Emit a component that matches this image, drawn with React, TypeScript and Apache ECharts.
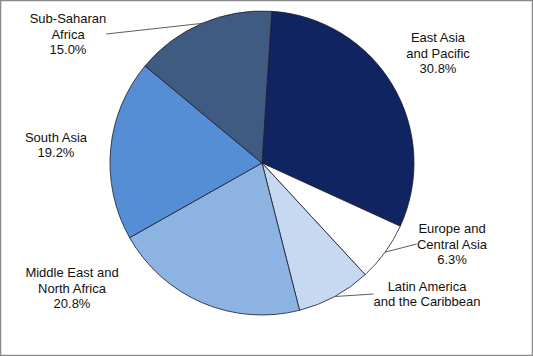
import React, { useEffect, useRef } from "react";
import * as echarts from "echarts";

const regions = [
  "East Asia\nand Pacific",
  "Europe and\nCentral Asia",
  "Latin America\nand the Caribbean",
  "Middle East and\nNorth Africa",
  "South Asia",
  "Sub-Saharan\nAfrica",
];
const shares = [30.8, 6.3, 7.9, 20.8, 19.2, 15.0];
const showPct = [true, true, false, true, true, true];
const colors = ["#0f2461", "#ffffff", "#c6d9f1", "#8db3e2", "#558ed5", "#3f5b82"];
const hasLeader = [false, true, true, false, false, true];
// label centers (px)
const labelPos: [number, number][] = [
  [438, 53],
  [452, 244],
  [427, 294],
  [72, 288],
  [56, 145],
  [68, 34],
];

export default function App() {
  const ref = useRef<HTMLDivElement>(null);
  useEffect(() => {
    if (!ref.current) return;
    const chart = echarts.init(ref.current, undefined, { renderer: "svg" });
    chart.setOption({
      animation: false,
      backgroundColor: "#ffffff",
      graphic: [
        {
          type: "rect",
          shape: { x: 0.5, y: 0.5, width: 532, height: 355 },
          style: { fill: "none", stroke: "#8a8a8a", lineWidth: 1.5 },
          silent: true,
        },
      ],
      series: [
        {
          type: "pie",
          center: [262, 163],
          radius: 152,
          startAngle: 86.3,
          clockwise: true,
          avoidLabelOverlap: false,
          emphasis: { disabled: true },
          itemStyle: { borderColor: "#1a1a2a", borderWidth: 0.8 },
          label: {
            show: true,
            position: "outside",
            fontFamily: "Liberation Sans, Arial, sans-serif",
            fontSize: 13,
            lineHeight: 15.5,
            color: "#111111",
            align: "center",
          },
          labelLine: {
            show: true,
            length: 8,
            length2: 0,
            lineStyle: { color: "#333333", width: 0.8 },
          },
          labelLayout: (p: any) => {
            const [x, y] = labelPos[p.dataIndex];
            return { x, y, align: "center", verticalAlign: "middle" };
          },
          data: regions.map((name, i) => ({
            name,
            value: shares[i],
            itemStyle: { color: colors[i] },
            label: {
              formatter: showPct[i] ? `${name}\n${shares[i].toFixed(1)}%` : name,
            },
            labelLine: { show: hasLeader[i] },
          })),
        },
      ],
    });
    return () => chart.dispose();
  }, []);
  return (
    <div
      ref={ref}
      style={{ position: "fixed", left: 0, top: 0, width: 533, height: 356 }}
    />
  );
}
